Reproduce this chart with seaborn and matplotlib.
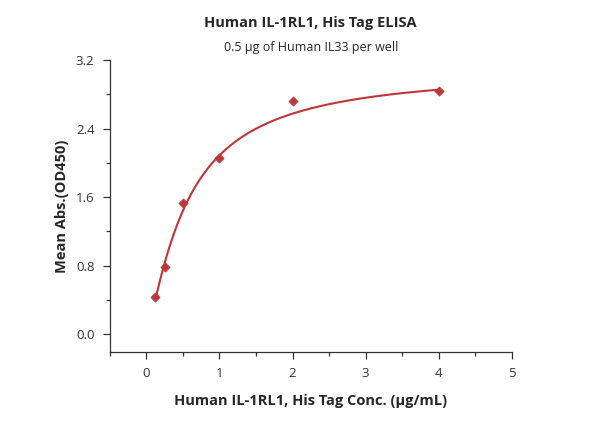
import numpy as np
import pandas as pd
import matplotlib
matplotlib.use("Agg")
import matplotlib.pyplot as plt
import seaborn as sns

conc = [0.125, 0.25, 0.5, 1.0, 2.0, 4.0]
od450 = [0.43, 0.78, 1.53, 2.06, 2.72, 2.84]
xticks = [0, 1, 2, 3, 4, 5]
yticks = [0.0, 0.8, 1.6, 2.4, 3.2]

# four-parameter logistic fit parameters (bottom, slope, EC50, top)
fit_bottom, fit_slope, fit_ec50, fit_top = 0.0, 1.25, 0.56, 3.10

title = "Human IL-1RL1, His Tag ELISA"
subtitle = "0.5 μg of Human IL33 per well"
xlabel = "Human IL-1RL1, His Tag Conc. (μg/mL)"
ylabel = "Mean Abs.(OD450)"

sns.set_style("ticks")
plt.rcParams['font.family'] = ['Open Sans', 'DejaVu Sans']

df = pd.DataFrame({"conc": conc, "od": od450})

xf = np.linspace(min(conc), max(conc), 300)
yf = fit_top + (fit_bottom - fit_top) / (1 + (xf / fit_ec50) ** fit_slope)

red = "#c1353a"
fig = plt.figure(figsize=(6, 4.21), dpi=100)
ax = fig.add_axes([0.183, 0.164, 0.670, 0.693])
sns.lineplot(x=xf, y=yf, ax=ax, color=red, lw=1.5)
sns.scatterplot(data=df, x="conc", y="od", ax=ax, marker="D", s=22, color=red, edgecolor=red, linewidth=0.5, zorder=3)

ax.set_xlim(-0.5, 5)
ax.set_ylim(-0.21, 3.2)
ax.set_xticks(xticks)
ax.set_yticks(yticks)
ax.set_yticklabels([f"{t:.1f}" for t in yticks])
ax.set_xticks(np.arange(-0.5, 5.01, 0.5), minor=True)
ax.set_yticks(np.arange(0.0, 3.21, 0.4), minor=True)
ax.tick_params(axis="both", which="major", length=5, width=0.9, color="#333333", labelsize=9.5, labelcolor="#333333", pad=6)
ax.tick_params(axis="both", which="minor", length=3, width=0.9, color="#333333")
for s in ["left", "bottom"]:
    ax.spines[s].set_color("#333333")
    ax.spines[s].set_linewidth(0.9)
sns.despine(ax=ax)

ax.set_xlabel(xlabel, fontsize=10.5, fontweight="bold", labelpad=10)
ax.set_ylabel(ylabel, fontsize=10.5, fontweight="bold", labelpad=5)
fig.text(0.518, 0.945, title, ha="center", va="center", fontsize=10.5, fontweight="bold")
fig.text(0.518, 0.888, subtitle, ha="center", va="center", fontsize=9)

fig.savefig("out.png", dpi=100)
